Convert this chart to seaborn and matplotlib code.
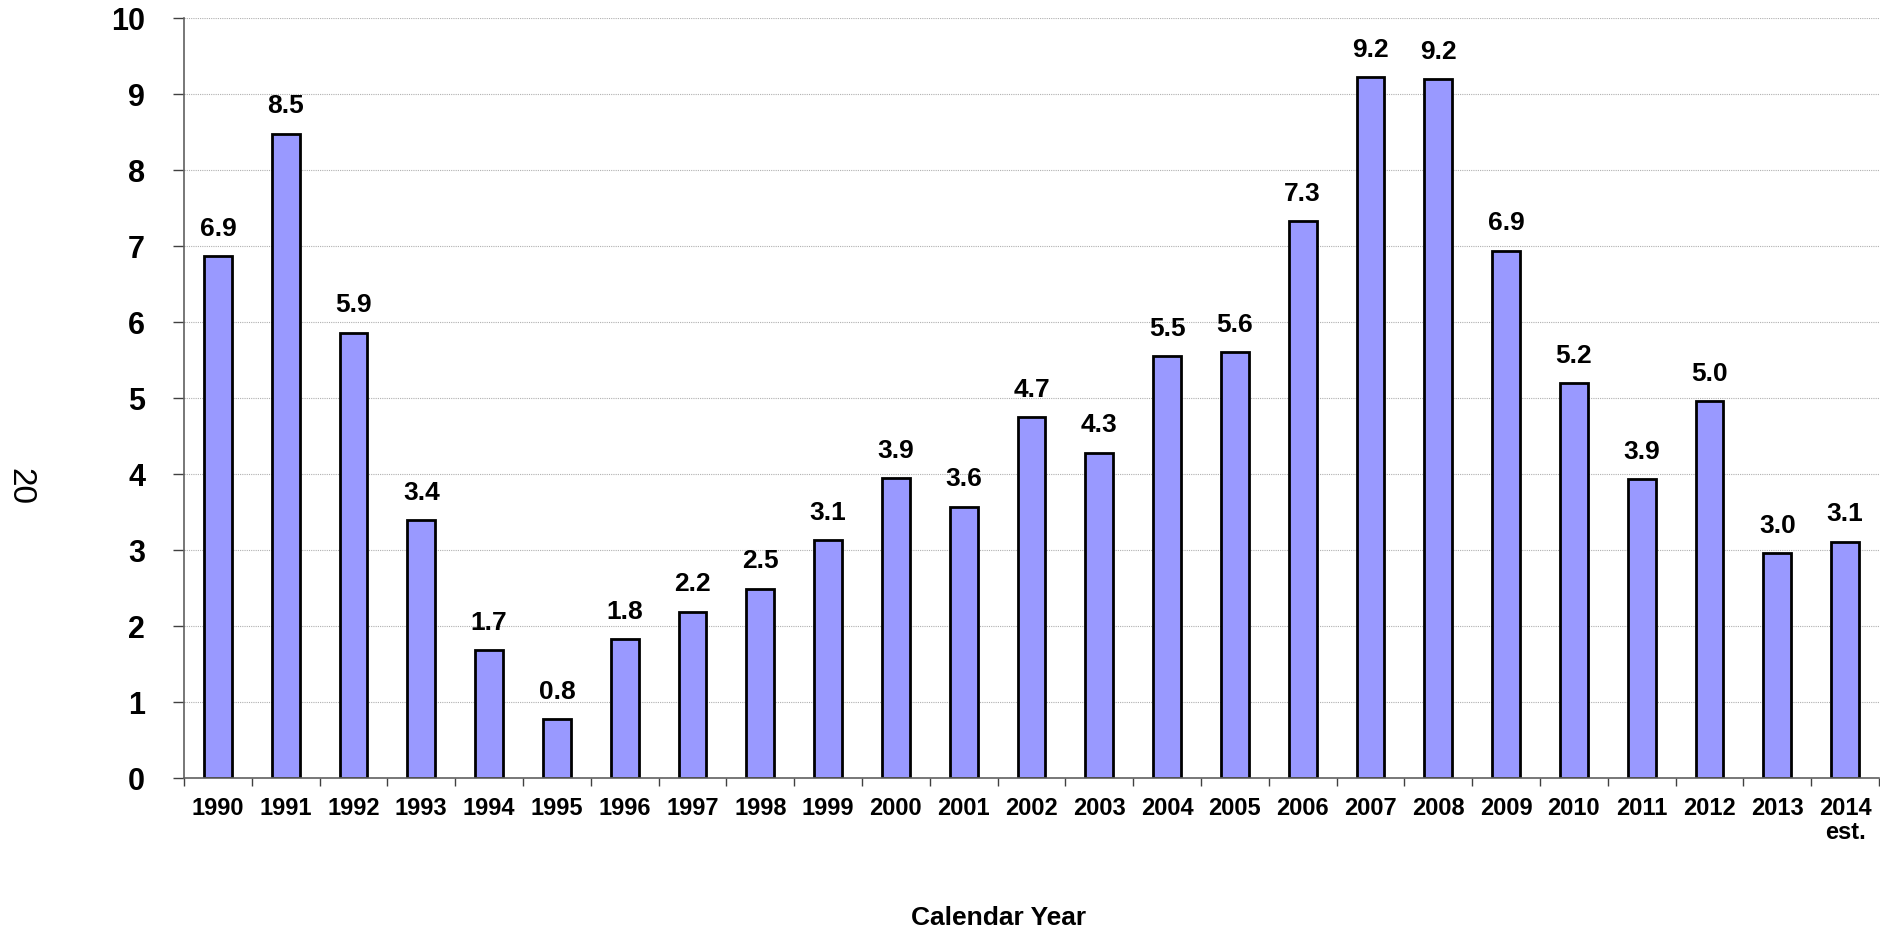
import numpy as np
import pandas as pd
import matplotlib
matplotlib.use("Agg")
import matplotlib.pyplot as plt
import seaborn as sns

years = ["1990", "1991", "1992", "1993", "1994", "1995", "1996", "1997", "1998", "1999",
         "2000", "2001", "2002", "2003", "2004", "2005", "2006", "2007", "2008", "2009",
         "2010", "2011", "2012", "2013", "2014\nest."]
values = [6.87, 8.48, 5.86, 3.39, 1.68, 0.77, 1.83, 2.19, 2.49, 3.13,
          3.95, 3.57, 4.75, 4.28, 5.55, 5.60, 7.33, 9.22, 9.20, 6.94,
          5.20, 3.93, 4.96, 2.96, 3.11]
labels = ["6.9", "8.5", "5.9", "3.4", "1.7", "0.8", "1.8", "2.2", "2.5", "3.1",
          "3.9", "3.6", "4.7", "4.3", "5.5", "5.6", "7.3", "9.2", "9.2", "6.9",
          "5.2", "3.9", "5.0", "3.0", "3.1"]
yticks = [0, 1, 2, 3, 4, 5, 6, 7, 8, 9, 10]

sns.set_style("white")
plt.rcParams['font.family'] = ['Liberation Sans', 'DejaVu Sans']
plt.rcParams['text.color'] = 'black'
plt.rcParams['xtick.labelcolor'] = 'black'
plt.rcParams['ytick.labelcolor'] = 'black'

df = pd.DataFrame({"year": years, "value": values})

fig = plt.figure(figsize=(18.81, 9.3), dpi=100)
ax = fig.add_axes([184/1881, 1 - 778/930, (1879 - 184)/1881, (778 - 18)/930])

sns.barplot(data=df, x="year", y="value", order=years, color="#9999FF",
            width=0.41, edgecolor="black", linewidth=2.0, saturation=1, ax=ax)

ax.bar_label(ax.containers[0], labels=labels, padding=11,
             fontsize=19, fontweight="bold", color="black")

ax.set_ylim(0, 10)
ax.set_xlim(-0.5, len(years) - 0.5)
ax.set_yticks(yticks)
ax.set_yticklabels([str(t) for t in yticks], fontsize=22, fontweight="bold", color="black")
ax.yaxis.grid(True, color="#b0b0b0", linestyle=(0, (1, 1)), linewidth=0.8)
ax.set_axisbelow(True)

ax.set_xticks(range(len(years)))
ax.set_xticklabels(years, fontsize=17, fontweight="bold", linespacing=1.05, color="black")
ax.set_xticks(np.arange(-0.5, len(years), 1), minor=True)
ax.tick_params(axis="x", which="major", length=0, pad=14)
ax.tick_params(axis="x", which="minor", length=6, width=1, color="#404040",
               direction="out", bottom=True)
ax.tick_params(axis="y", which="major", length=8, width=1, color="#404040",
               direction="out", left=True, pad=20)

for s in ["top", "right"]:
    ax.spines[s].set_visible(False)
for s in ["left", "bottom"]:
    ax.spines[s].set_color("#606060")
    ax.spines[s].set_linewidth(1.2)

ax.set_xlabel("")
ax.set_ylabel("")

fig.text(999/1881, 1 - 918/930, "Calendar Year", ha="center", va="center",
         fontsize=19, fontweight="bold", color="black")
fig.text(20/1881, 1 - 486/930, "20", ha="center", va="center",
         fontsize=24, rotation=270, color="black")

fig.savefig("out.png", dpi=100)
